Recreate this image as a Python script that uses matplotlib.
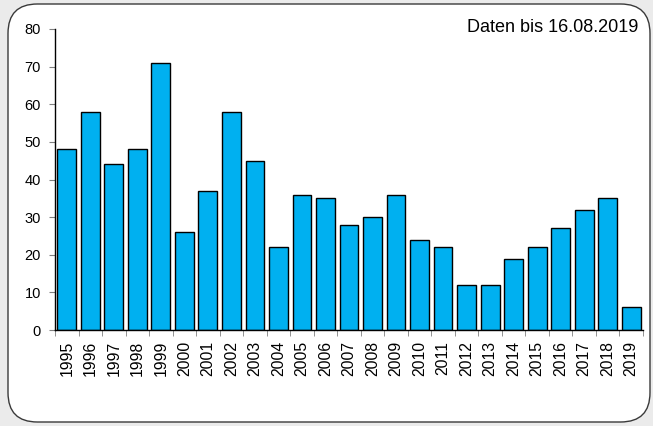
import numpy as np
import matplotlib.pyplot as plt
from matplotlib.patches import FancyBboxPatch

years = [str(y) for y in range(1995, 2020)]
counts = [48, 58, 44, 48, 71, 26, 37, 58, 45, 22, 36, 35, 28, 30, 36,
          24, 22, 12, 12, 19, 22, 27, 32, 35, 6]
yticks = [0, 10, 20, 30, 40, 50, 60, 70, 80]
note = "Daten bis 16.08.2019"

plt.rcParams['font.family'] = ['Liberation Sans', 'DejaVu Sans']

fig = plt.figure(figsize=(6.53, 4.26), dpi=100, facecolor='#ebebeb')

# white rounded frame, kept behind the axes
frame = FancyBboxPatch((8 / 653, 4 / 426), 642 / 653, 418 / 426,
                       boxstyle="round,pad=0,rounding_size=0.045",
                       transform=fig.transFigure, facecolor='white',
                       edgecolor='#3a3a3a', lw=1.0, mutation_aspect=653 / 426,
                       zorder=-10)
fig.patches.append(frame)

ax = fig.add_axes([55 / 653, 1 - 330 / 426, 588 / 653, 301 / 426])
ax.set_facecolor('none')
ax.set_zorder(5)

x = np.arange(len(years))
ax.bar(x, counts, width=0.8, color='#00b0f0', edgecolor='black', lw=1.0, zorder=2)

ax.set_xlim(-0.5, len(years) - 0.5)
ax.set_ylim(0, 80)
ax.set_yticks(yticks)
ax.tick_params(axis='y', labelsize=10.5, length=4, color='#808080', pad=6)

ax.set_xticks(x)
ax.set_xticklabels(years, rotation=90, fontsize=11.3)
ax.tick_params(axis='x', length=0, pad=8)
ax.set_xticks(np.arange(len(years) + 1) - 0.5, minor=True)
ax.tick_params(axis='x', which='minor', length=4, color='#808080')

for s in ['top', 'right']:
    ax.spines[s].set_visible(False)
for s in ['left', 'bottom']:
    ax.spines[s].set_color('black')
    ax.spines[s].set_linewidth(1.0)

fig.text(638 / 653, 1 - 28 / 426, note, ha='right', va='center', fontsize=13)

fig.savefig('out.png', dpi=100, facecolor=fig.get_facecolor())
